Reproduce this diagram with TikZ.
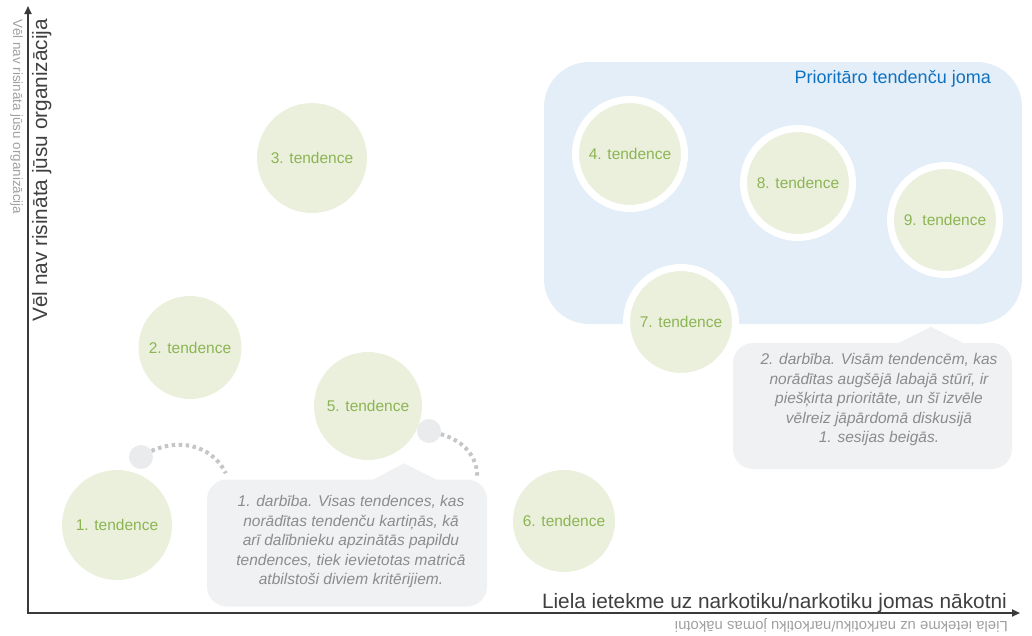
\documentclass[tikz,border=0pt]{standalone}
\usepackage{fontspec}
\setmainfont{Liberation Sans}
\usetikzlibrary{arrows.meta,positioning}

\definecolor{trendfill}{HTML}{EBF0DD}
\definecolor{trendtext}{HTML}{8CB453}
\definecolor{areafill}{HTML}{E3EEF8}
\definecolor{areatext}{HTML}{0F72C0}
\definecolor{notefill}{HTML}{F0F1F3}
\definecolor{notetext}{HTML}{8C8C8C}
\definecolor{dotfill}{HTML}{EAEBED}
\definecolor{linkcol}{HTML}{C6C6C6}
\definecolor{axiscol}{HTML}{3A3A3A}
\definecolor{labelcol}{HTML}{404040}
\definecolor{faintcol}{HTML}{A0A0A0}

\begin{document}
\begin{tikzpicture}[x=1pt,y=-1pt,
    trend/.style={circle,fill=trendfill,text=trendtext,inner sep=0pt,minimum size=106pt,font=\fontsize{15.5}{18}\selectfont},
    prio/.style={trend,draw=white,line width=7pt,minimum size=109pt},
    note/.style={rectangle,rounded corners=20pt,fill=notefill,minimum width=280pt,minimum height=127pt},
    notetxt/.style={align=center,text=notetext,inner sep=0pt,font=\fontsize{15.5}{19.5}\selectfont\itshape},
    dot/.style={circle,fill=dotfill,inner sep=0pt,minimum size=24pt},
    link/.style={linkcol,line width=4pt,dash pattern=on 3.5pt off 3.5pt},
    axis/.style={axiscol,line width=1.8pt,-{Triangle[length=8pt,width=7pt]}},
    biglabel/.style={text=labelcol,inner sep=0pt,font=\fontsize{20.8}{24}\selectfont},
    faintlabel/.style={text=faintcol,inner sep=0pt,font=\fontsize{14}{17}\selectfont}]
    \useasboundingbox (0,0) rectangle (1032,635);

    % priority area
    \node[rectangle,rounded corners=45pt,fill=areafill,minimum width=478pt,minimum height=262pt] (prioarea) at (783,193) {};
    \node[anchor=base east,text=areatext,inner sep=0pt,font=\fontsize{18}{22}\selectfont] (areatitle) at (991,83) {Prioritāro tendenču joma};

    % step notes
    \node[note] (note1) at (347,543) {};
    \fill[notefill] ([xshift=23,yshift=-2]note1.north) -- ([xshift=57,yshift=16]note1.north) -- ([xshift=93,yshift=-2]note1.north) -- cycle;
    \node[notetxt] (note1text) at ([xshift=4,yshift=1.5]note1.center) {1. darbība. Visas tendences, kas\\norādītas tendenču kartiņās, kā\\arī dalībnieku apzinātās papildu\\tendences, tiek ievietotas matricā\\atbilstoši diviem kritērijiem.};

    \node[note,minimum width=279pt,minimum height=126pt] (note2) at (872.5,406) {};
    \fill[notefill] ([xshift=22.5,yshift=-2]note2.north) -- ([xshift=58.5,yshift=16]note2.north) -- ([xshift=94.5,yshift=-2]note2.north) -- cycle;
    \node[notetxt] (note2text) at ([xshift=6.5,yshift=6.5]note2.center) {2. darbība. Visām tendencēm, kas\\norādītas augšējā labajā stūrī, ir\\piešķirta prioritāte, un šī izvēle\\vēlreiz jāpārdomā diskusijā\\1. sesijas beigās.};

    % moving trends
    \node[dot] (dot1) at (141,457) {};
    \node[dot] (dot2) at (429,431) {};
    \draw[link] (dot1.30) .. controls (185,436) and (215,450) .. ([xshift=19,yshift=6]note1.north west);
    \draw[link] (dot2.-15) .. controls (465,441) and (478,458) .. ([xshift=-10,yshift=1]note1.north east);

    % trends
    \node[trend,minimum size=110pt] (t1) at (117,525) {1. tendence};
    \node[trend,minimum size=103pt] (t2) at (190,347.5) {2. tendence};
    \node[trend,minimum size=110pt] (t3) at (312,158) {3. tendence};
    \node[trend,minimum size=108pt] (t5) at (368,406) {5. tendence};
    \node[trend,minimum size=102pt] (t6) at (564,521) {6. tendence};
    \node[prio] (t4) at (630,154) {4. tendence};
    \node[prio] (t8) at (798,183) {8. tendence};
    \node[prio] (t9) at (945,220) {9. tendence};
    \node[prio] (t7) at (681,322) {7. tendence};

    % axes
    \coordinate (origin) at (28,613);
    \coordinate (ytop) at (28,6);
    \coordinate (xend) at (1020,613);
    \draw[axis] ([yshift=-1]origin) -- (ytop);
    \draw[axis] ([xshift=-0.9]origin) -- (xend);

    \node[biglabel,rotate=90,anchor=base west] (ylabel) at (47,322) {Vēl nav risināta jūsu organizācija};
    \node[faintlabel,rotate=-90,anchor=base west,font=\fontsize{13.4}{16}\selectfont] (ylabelfaint) at (13,19) {Vēl nav risināta jūsu organizācija};
    \node[biglabel,anchor=base east] (xlabel) at (1007,608) {Liela ietekme uz narkotiku/narkotiku jomas nākotni};
    \node[faintlabel,rotate=180,anchor=base west,font=\fontsize{14.9}{18}\selectfont] (xlabelfaint) at (1008,621) {Liela ietekme uz narkotiku/narkotiku jomas nākotni};
\end{tikzpicture}
\end{document}
